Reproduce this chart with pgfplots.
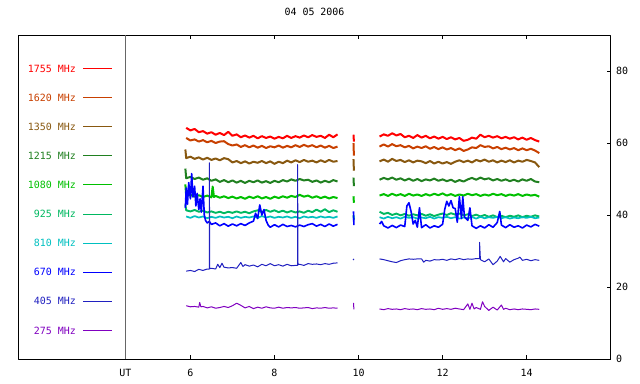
\documentclass[border=0pt]{standalone}
\usepackage{pgfplots}
\pgfplotsset{compat=1.18}
\usepackage{fontspec}
\setmainfont{DejaVu Sans Mono}
\definecolor{cA}{RGB}{255,0,0}
\definecolor{cB}{RGB}{200,64,0}
\definecolor{cC}{RGB}{136,88,16}
\definecolor{cD}{RGB}{32,128,32}
\definecolor{cE}{RGB}{0,192,0}
\definecolor{cF}{RGB}{0,184,96}
\definecolor{cG}{RGB}{0,192,192}
\definecolor{cH}{RGB}{0,0,255}
\definecolor{cI}{RGB}{32,32,192}
\definecolor{cJ}{RGB}{128,0,192}
\begin{document}
\begin{tikzpicture}
\useasboundingbox (-18.3bp,-25bp) rectangle (621.7bp,359bp);
\begin{axis}[
  at={(0,0)}, anchor=south west,
  scale only axis, width=592.4bp, height=324bp,
  xmin=1.905, xmax=16.0, ymin=0, ymax=90,
  axis line style={black, line width=0.8bp},
  xtick={6,8,10,12,14}, xtick pos=both, tick align=inside,
  ytick={0,20,40,60,80}, ytick pos=right, yticklabel pos=right,
  major tick length=4bp,
  tick style={black, line width=0.8bp},
  extra x ticks={4.45}, extra x tick labels={UT},
  extra x tick style={grid=major, major tick length=0pt, major grid style={gray!80!black, line width=0.8bp}},
  tick label style={font=\fontsize{10}{12}\selectfont},
  xticklabel style={yshift=-6.5bp},
  yticklabel style={xshift=2bp},
  /pgf/number format/assume math mode=true,
  unbounded coords=jump,
  title={04 05 2006},
  title style={at={(0.5,1)}, anchor=base, yshift=14bp, font=\fontsize{10}{12}\selectfont},
  line join=round,
]
% 1755
\addplot[cA, line width=2bp] table {
5.9 64.2
6.0 63.5
6.1 63.9
6.2 63.0
6.3 63.3
6.4 62.6
6.5 63.0
6.6 62.3
6.7 62.8
6.8 62.2
6.9 63.1
7.0 62.0
7.1 62.4
7.2 61.6
7.3 62.1
7.4 61.5
7.5 62.0
7.6 61.3
7.7 61.9
7.8 61.4
7.9 61.8
8.0 61.2
8.1 61.7
8.2 61.3
8.3 62.0
8.4 61.4
8.5 61.9
8.6 61.5
8.7 62.1
8.8 61.6
8.9 62.2
9.0 61.7
9.1 62.0
9.2 61.4
9.3 62.3
9.4 61.6
9.5 62.4
9.7 nan
9.88 62.3
9.89 60.4
10.2 nan
10.5 61.8
10.6 62.4
10.7 62.0
10.8 62.7
10.9 62.1
11.0 62.5
11.1 61.6
11.2 62.0
11.3 61.4
11.4 62.2
11.5 61.5
11.6 62.0
11.7 61.3
11.8 61.8
11.9 61.2
12.0 61.7
12.1 61.1
12.2 61.6
12.3 61.0
12.4 61.4
12.5 60.6
12.6 60.9
12.7 61.5
12.8 61.2
12.9 62.3
13.0 61.6
13.1 62.0
13.2 61.5
13.3 61.9
13.4 61.3
13.5 61.7
13.6 61.2
13.7 61.6
13.8 61.0
13.9 61.5
14.0 60.9
14.1 61.4
14.2 60.8
14.3 60.4
};
% 1620
\addplot[cB, line width=2bp] table {
5.9 61.4
6.0 60.7
6.1 61.0
6.2 60.4
6.3 60.8
6.4 60.2
6.5 60.6
6.6 60.0
6.7 60.4
6.8 60.5
6.9 59.7
7.0 59.3
7.1 59.6
7.2 58.9
7.3 59.4
7.4 58.8
7.5 59.3
7.6 58.7
7.7 59.2
7.8 58.6
7.9 59.1
8.0 58.8
8.1 59.3
8.2 58.7
8.3 59.2
8.4 58.8
8.5 59.4
8.6 58.9
8.7 59.5
8.8 59.0
8.9 59.4
9.0 58.8
9.1 59.3
9.2 58.7
9.3 59.2
9.4 58.6
9.5 59.0
9.7 nan
9.88 60.0
9.89 56.5
10.2 nan
10.5 59.0
10.6 59.6
10.7 59.0
10.8 59.7
10.9 59.1
11.0 59.4
11.1 58.8
11.2 59.2
11.3 58.5
11.4 59.0
11.5 58.6
11.6 59.1
11.7 58.4
11.8 58.9
11.9 58.3
12.0 58.8
12.1 58.2
12.2 58.6
12.3 58.0
12.4 58.5
12.5 57.8
12.6 58.2
12.7 58.8
12.8 58.6
12.9 59.4
13.0 58.9
13.1 59.1
13.2 58.5
13.3 58.9
13.4 58.3
13.5 58.7
13.6 58.2
13.7 58.6
13.8 58.0
13.9 58.5
14.0 58.0
14.1 58.4
14.2 57.9
14.3 57.2
};
% 1350
\addplot[cC, line width=2bp] table {
5.88 58.2
5.9 55.8
6.0 56.2
6.1 55.6
6.2 56.0
6.3 55.4
6.4 55.9
6.5 55.3
6.6 55.7
6.7 55.2
6.8 55.8
6.9 55.5
7.0 54.6
7.1 55.0
7.2 54.4
7.3 54.9
7.4 54.3
7.5 54.8
7.6 54.5
7.7 55.0
7.8 54.4
7.9 54.9
8.0 54.2
8.1 54.8
8.2 54.4
8.3 55.1
8.4 54.6
8.5 55.2
8.6 54.7
8.7 55.3
8.8 54.8
8.9 55.1
9.0 54.6
9.1 55.2
9.2 54.7
9.3 55.3
9.4 54.8
9.5 55.0
9.7 nan
9.88 55.5
9.89 52.3
10.2 nan
10.5 54.9
10.6 55.4
10.7 54.8
10.8 55.6
10.9 55.0
11.0 55.3
11.1 54.7
11.2 55.2
11.3 54.6
11.4 55.1
11.5 54.9
11.6 54.4
11.7 55.0
11.8 54.3
11.9 54.8
12.0 54.3
12.1 54.7
12.2 54.2
12.3 54.8
12.4 55.2
12.5 54.7
12.6 55.1
12.7 54.6
12.8 55.3
12.9 54.9
13.0 55.4
13.1 54.8
13.2 55.2
13.3 54.6
13.4 55.1
13.5 54.7
13.6 55.2
13.7 54.6
13.8 55.1
13.9 54.8
14.0 55.3
14.1 55.0
14.2 54.6
14.3 53.3
};
% 1215
\addplot[cD, line width=2bp] table {
5.88 52.9
5.9 50.2
6.0 50.6
6.1 50.0
6.2 50.4
6.3 49.8
6.4 50.2
6.5 49.5
6.6 49.9
6.7 49.2
6.8 49.7
6.9 49.1
7.0 49.6
7.1 49.0
7.2 49.5
7.3 48.9
7.4 49.5
7.5 49.1
7.6 49.6
7.7 49.0
7.8 49.4
7.9 48.9
8.0 49.5
8.1 49.1
8.2 49.7
8.3 49.3
8.4 49.9
8.5 49.5
8.6 50.0
8.7 49.6
8.8 49.8
8.9 49.2
9.0 49.6
9.1 49.0
9.2 49.5
9.3 49.1
9.4 49.7
9.5 49.3
9.7 nan
9.88 50.4
9.89 48.0
10.2 nan
10.5 49.8
10.6 50.3
10.7 49.9
10.8 50.4
10.9 49.8
11.0 50.2
11.1 49.6
11.2 50.1
11.3 49.5
11.4 50.0
11.5 49.4
11.6 49.9
11.7 49.6
11.8 50.1
11.9 49.5
12.0 49.9
12.1 49.4
12.2 49.8
12.3 49.2
12.4 49.7
12.5 49.3
12.6 49.9
12.7 50.3
12.8 49.8
12.9 50.4
13.0 49.9
13.1 50.2
13.2 49.6
13.3 50.0
13.4 49.5
13.5 49.9
13.6 49.4
13.7 49.8
13.8 49.3
13.9 49.9
14.0 49.5
14.1 50.0
14.2 49.3
14.3 49.1
};
% 1080
\addplot[cE, line width=2bp] table {
5.88 48.5
5.9 45.2
6.0 45.6
6.1 45.1
6.2 45.5
6.3 45.0
6.4 45.4
6.5 44.9
6.53 47.9
6.56 45.0
6.6 45.3
6.7 44.8
6.8 45.2
6.9 44.7
7.0 45.1
7.1 44.6
7.2 45.0
7.3 44.5
7.4 45.1
7.5 44.7
7.6 45.2
7.7 44.6
7.8 45.0
7.9 44.5
8.0 45.1
8.1 44.7
8.2 45.2
8.3 44.8
8.4 45.3
8.5 45.0
8.6 45.6
8.7 45.1
8.8 45.4
8.9 44.8
9.0 45.2
9.1 44.7
9.2 45.1
9.3 44.6
9.4 45.0
9.5 44.7
9.7 nan
9.88 45.2
9.89 43.4
10.2 nan
10.5 45.4
10.6 45.8
10.7 45.3
10.8 45.9
10.9 45.4
11.0 45.8
11.1 45.3
11.2 45.9
11.3 45.4
11.4 45.7
11.5 45.3
11.6 45.8
11.7 45.4
11.8 45.9
11.9 45.5
12.0 46.0
12.1 45.4
12.2 45.8
12.3 45.3
12.4 45.7
12.5 45.4
12.6 45.9
12.7 45.5
12.8 45.8
12.9 45.3
13.0 45.7
13.1 45.4
13.2 45.9
13.3 45.5
13.4 45.8
13.5 45.3
13.6 45.7
13.7 45.4
13.8 45.8
13.9 45.3
14.0 45.7
14.1 45.4
14.2 45.6
14.3 45.1
};
% 925
\addplot[cF, line width=1.9bp] table {
5.88 42.9
5.9 41.3
6.0 41.0
6.1 41.4
6.2 40.9
6.3 41.2
6.4 40.7
6.5 41.0
6.6 40.6
6.7 40.9
6.8 40.5
6.9 40.9
7.0 40.6
7.1 41.0
7.2 40.6
7.3 40.9
7.4 40.5
7.5 41.0
7.6 41.3
7.7 40.8
7.8 41.4
7.9 40.9
8.0 41.3
8.1 40.8
8.2 41.2
8.3 40.7
8.4 41.1
8.5 40.7
8.6 41.0
8.7 40.6
8.8 41.2
8.9 40.8
9.0 41.5
9.1 40.9
9.2 41.6
9.3 40.8
9.4 41.3
9.5 40.9
9.7 nan
9.88 40.0
9.89 38.7
10.2 nan
10.5 40.9
10.6 40.3
10.7 40.6
10.8 40.0
10.9 40.4
11.0 39.9
11.1 40.3
11.2 39.8
11.3 40.2
11.4 39.9
11.5 40.3
11.6 39.8
11.7 40.2
11.8 39.7
11.9 40.1
12.0 40.4
12.1 40.0
12.2 40.5
12.3 40.1
12.4 40.4
12.5 39.9
12.6 40.2
12.7 39.7
12.8 40.1
12.9 39.6
13.0 40.0
13.1 39.5
13.2 39.9
13.3 39.4
13.4 39.8
13.5 39.4
13.6 39.8
13.7 39.5
13.8 39.9
13.9 39.4
14.0 39.8
14.1 39.5
14.2 39.9
14.3 39.6
};
% 810
\addplot[cG, line width=1.7bp] table {
5.9 39.6
6.0 39.2
6.1 39.7
6.2 39.3
6.3 39.6
6.4 39.1
6.5 39.5
6.6 39.2
6.7 39.6
6.8 39.3
6.9 39.5
7.0 39.1
7.1 39.6
7.2 39.2
7.3 39.5
7.4 39.3
7.5 39.6
7.6 39.2
7.7 39.7
7.8 39.3
7.9 39.6
8.0 39.2
8.1 39.5
8.2 39.3
8.3 39.6
8.4 39.2
8.5 39.5
8.6 39.1
8.7 39.6
8.8 39.3
8.9 39.5
9.0 39.2
9.1 39.6
9.2 39.3
9.3 39.5
9.4 39.2
9.5 39.6
9.7 nan
9.88 39.6
9.89 39.0
10.2 nan
10.5 39.4
10.6 39.0
10.7 39.5
10.8 39.1
10.9 39.4
11.0 39.0
11.1 39.5
11.2 39.2
11.3 39.4
11.4 39.0
11.5 39.3
11.6 39.1
11.7 39.5
11.8 39.0
11.9 39.4
12.0 39.2
12.1 39.5
12.2 39.1
12.3 39.4
12.4 39.0
12.5 39.3
12.6 39.1
12.7 39.4
12.8 39.0
12.9 39.5
13.0 39.1
13.1 39.4
13.2 39.2
13.3 39.5
13.4 39.1
13.5 39.4
13.6 39.0
13.7 39.3
13.8 39.1
13.9 39.4
14.0 39.2
14.1 39.5
14.2 39.1
14.3 39.3
};
% 670
\addplot[cH, line width=1.6bp] table {
5.88 42.0
5.9 47.5
5.93 43.0
5.96 49.0
6.0 44.5
6.03 51.5
6.06 45.0
6.1 48.0
6.13 42.5
6.16 46.0
6.2 41.5
6.23 44.5
6.26 40.8
6.3 48.0
6.33 40.0
6.36 38.5
6.4 37.8
6.45 38.2
6.5 37.4
6.6 37.8
6.7 37.0
6.8 37.6
6.9 36.9
7.0 37.5
7.1 37.0
7.2 37.6
7.3 37.1
7.4 37.8
7.5 38.3
7.55 40.5
7.6 39.0
7.65 42.8
7.7 40.0
7.75 41.5
7.8 38.5
7.85 37.2
7.9 36.6
8.0 37.3
8.1 36.7
8.2 37.4
8.3 36.8
8.4 37.1
8.5 36.7
8.6 37.2
8.7 36.8
8.8 37.3
8.9 37.6
9.0 36.9
9.1 37.4
9.2 36.8
9.3 37.5
9.4 36.9
9.5 37.4
9.7 nan
9.88 41.0
9.89 37.2
10.2 nan
10.5 37.5
10.55 38.2
10.6 37.0
10.7 36.4
10.8 37.1
10.9 36.5
11.0 37.2
11.1 36.8
11.15 42.5
11.2 43.4
11.25 41.0
11.3 37.5
11.35 38.5
11.4 36.6
11.45 42.0
11.5 36.5
11.6 37.3
11.7 36.4
11.8 37.0
11.9 36.6
12.0 37.4
12.05 41.5
12.1 43.8
12.15 42.5
12.2 44.0
12.25 42.0
12.3 41.8
12.35 38.0
12.4 45.1
12.45 39.0
12.48 45.1
12.52 39.5
12.6 38.5
12.65 42.0
12.7 37.0
12.8 36.3
12.9 37.0
13.0 36.4
13.1 37.3
13.2 36.6
13.3 37.9
13.36 41.0
13.4 37.2
13.5 36.5
13.6 37.3
13.7 36.6
13.8 37.0
13.9 36.4
14.0 37.2
14.1 36.7
14.2 37.4
14.3 36.9
};
% 405
\addplot[cI, line width=1bp] table {
5.9 24.4
6.0 24.6
6.1 24.3
6.2 24.9
6.3 24.6
6.4 25.0
6.45 25.0
6.45 54.5
6.46 25.1
6.5 25.2
6.6 25.0
6.65 26.3
6.7 25.4
6.75 26.6
6.8 25.5
6.9 25.3
7.0 25.4
7.1 25.2
7.15 26.0
7.2 26.8
7.25 25.7
7.3 26.2
7.4 25.8
7.5 26.1
7.6 25.6
7.7 26.3
7.8 25.9
7.9 26.5
8.0 25.9
8.1 26.2
8.2 25.8
8.3 26.3
8.4 25.9
8.5 26.0
8.55 26.0
8.55 54.0
8.56 26.2
8.6 26.3
8.7 26.0
8.8 26.5
8.9 26.3
9.0 26.4
9.1 26.2
9.2 26.5
9.3 26.3
9.4 26.6
9.5 26.7
9.7 nan
9.87 27.5
9.89 27.8
10.2 nan
10.5 27.8
10.6 27.6
10.7 27.3
10.8 27.0
10.9 26.8
11.0 27.3
11.1 27.6
11.2 27.8
11.3 27.7
11.4 27.8
11.5 27.8
11.55 26.9
11.6 27.4
11.7 27.2
11.8 27.6
11.9 27.5
12.0 27.7
12.1 27.4
12.2 27.8
12.3 27.6
12.4 27.9
12.5 27.6
12.6 27.8
12.7 27.7
12.8 27.9
12.88 27.9
12.88 32.4
12.9 27.6
13.0 27.0
13.1 27.8
13.2 26.2
13.3 27.2
13.37 28.5
13.45 27.0
13.5 27.9
13.6 26.9
13.7 27.6
13.8 28.0
13.84 28.3
13.9 27.4
14.0 27.7
14.1 27.3
14.2 27.6
14.3 27.4
};
% 275
\addplot[cJ, line width=1bp] table {
5.9 14.8
6.0 14.5
6.1 14.6
6.2 14.4
6.22 15.7
6.25 14.5
6.3 14.6
6.4 14.2
6.5 14.5
6.6 14.1
6.7 14.3
6.8 14.6
6.9 14.3
7.0 14.8
7.1 15.5
7.2 14.9
7.3 14.2
7.4 14.6
7.5 14.0
7.6 14.4
7.7 14.1
7.8 14.5
7.9 14.2
8.0 14.1
8.1 14.4
8.2 14.1
8.3 14.3
8.4 14.2
8.5 14.3
8.6 14.1
8.7 14.2
8.8 14.3
8.9 14.0
9.0 14.2
9.1 14.1
9.2 14.3
9.3 14.1
9.4 14.2
9.5 14.1
9.7 nan
9.88 15.6
9.89 13.8
10.2 nan
10.5 13.9
10.6 13.7
10.7 14.0
10.8 13.8
10.9 13.9
11.0 13.7
11.1 14.0
11.2 13.8
11.3 13.9
11.4 13.7
11.5 14.0
11.6 13.8
11.7 13.9
11.8 13.7
11.9 14.1
12.0 13.8
12.1 14.0
12.2 13.8
12.3 14.1
12.4 13.9
12.5 13.7
12.6 15.3
12.65 13.8
12.7 15.5
12.75 13.9
12.8 14.3
12.9 13.8
12.95 15.9
13.0 14.6
13.1 13.5
13.2 14.4
13.3 13.6
13.4 15.0
13.45 13.8
13.5 14.1
13.6 13.7
13.7 13.9
13.8 13.7
13.9 13.9
14.0 13.8
14.1 13.7
14.2 13.9
14.3 13.8
};
\end{axis}
% legend (text right-aligned, short line to its right)
\begin{scope}[font=\fontsize{10}{12}\selectfont]
\foreach \lab/\col [count=\i from 0] in {1755 MHz/cA,1620 MHz/cB,1350 MHz/cC,1215 MHz/cD,1080 MHz/cE,925 MHz/cF,810 MHz/cG,670 MHz/cH,405 MHz/cI,275 MHz/cJ}{
  \pgfmathsetmacro{\yy}{290.5-29.1*\i}
  \node[anchor=east, inner sep=0pt, text=\col] at (57.7bp,\yy bp) {\lab};
  \draw[\col, line width=0.9bp] (64.7bp,\yy bp) -- (93.4bp,\yy bp);
}
\end{scope}
\end{tikzpicture}
\end{document}
